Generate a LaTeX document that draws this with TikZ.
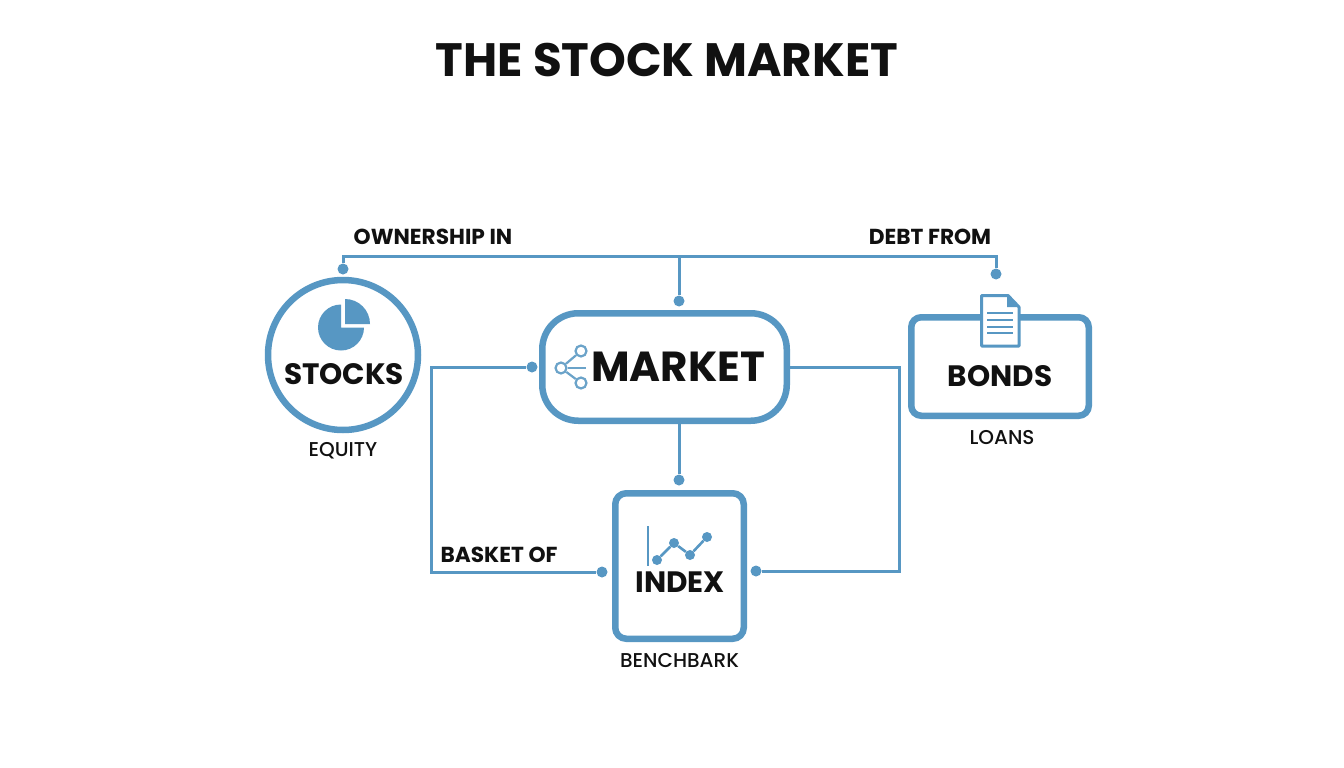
\documentclass[tikz,border=0pt]{standalone}
\usepackage{fontspec}
\setmainfont{Poppins}
\newfontfamily\mediumfont{Poppins Medium}
\usetikzlibrary{positioning}

\definecolor{linkblue}{HTML}{5797C3}
\definecolor{iconblue}{HTML}{6BA3C9}
\definecolor{inkblack}{HTML}{111111}

\tikzset{
  link/.style={line width=3pt,color=linkblue},
  dotend/.style={circle,fill=linkblue,inner sep=0pt,minimum size=11pt},
  heavybox/.style={draw=linkblue,line width=6.5pt,fill=white,rectangle},
  boxlabel/.style={font=\bfseries\fontsize{29.5}{30}\selectfont,text=inkblack,inner sep=0pt},
  smalllabel/.style={font=\bfseries\fontsize{21.7}{22}\selectfont,text=inkblack,inner sep=0pt},
  caption/.style={font=\mediumfont\fontsize{20}{20}\selectfont,text=inkblack,inner sep=0pt},
  iconpt/.style={circle,fill=linkblue,inner sep=0pt,minimum size=10pt},
  ringpt/.style={circle,draw=iconblue,line width=2.2pt,fill=white,inner sep=0pt,minimum size=11pt}
}

\begin{document}
\begin{tikzpicture}[x=1pt,y=-1pt]

  \useasboundingbox (0,0) rectangle (1344,768);

  \node [font=\bfseries\fontsize{46.8}{47}\selectfont,text=inkblack,inner sep=0pt] (title) at (667,60) {THE STOCK MARKET};

  \node [heavybox,circle,minimum size=150pt] (stocks) at (343,355) {};
  \node [heavybox,rounded corners=36pt,minimum width=244.5pt,minimum height=107.5pt] (market) at (664.5,367) {};
  \node [heavybox,rounded corners=10pt,minimum width=177.5pt,minimum height=98.5pt] (bonds) at (1000,366.5) {};
  \node [heavybox,rounded corners=11pt,minimum width=128.5pt,minimum height=145.5pt] (index) at (679.5,566) {};

  \node [boxlabel] (stockstext) at (344,374) {STOCKS};
  \node [boxlabel,font=\bfseries\fontsize{42}{42}\selectfont] (markettext) at (678,367) {MARKET};
  \node [boxlabel] (bondstext) at (1000,376) {BONDS};
  \node [boxlabel] (indextext) at (680,582) {INDEX};

  \node [caption,below=9pt of stocks] (equity) {EQUITY};
  \node [caption] (loans) at (1002,438) {LOANS};
  \node [caption,below=11pt of index] (benchmark) {BENCHBARK};

  \node [smalllabel] (ownership) at (433,237) {OWNERSHIP IN};
  \node [smalllabel] (debt) at (930,237) {DEBT FROM};
  \node [smalllabel] (basket) at (499,555) {BASKET OF};

  % dots at the free ends of the lines
  \node [dotend] (stocksdot) at (343,269) {};
  \node [dotend] (bondsdot) at (996,274) {};
  \node [dotend] (marketdot) at (679,301) {};
  \node [dotend] (indextop) at (679,480) {};
  \node [dotend] (marketleft) at (532,367) {};
  \node [dotend] (indexleft) at (602,572) {};
  \node [dotend] (indexright) at (756,571) {};

  \coordinate (busleft) at (343,256);
  \coordinate (busmid) at (679,256);
  \coordinate (busright) at (996,256);
  \coordinate (marketbase) at (679,421);
  \coordinate (leftupper) at (431,367);
  \coordinate (leftlower) at (431,572);
  \coordinate (rightupper) at (899,367);
  \coordinate (rightlower) at (899,571);

  \path [draw,link,line join=miter]
    (stocksdot) -- (busleft) -- (busright) -- (bondsdot);
  \path [draw,link]
    (busmid)     edge (marketdot)
    (marketbase) edge (indextop);
  \path [draw,link,line join=miter]
    (marketleft) -- (leftupper) -- (leftlower) -- (indexleft);
  \path [draw,link,line join=miter]
    (market.east) -- (rightupper) -- (rightlower) -- (indexright);

  % stocks icon
  \fill [linkblue] (341,327.5) -- (341,304.5) arc (90:360:23pt) -- cycle;
  \fill [linkblue] (345,324) -- (345,299) arc (90:0:25pt) -- cycle;

  % bonds icon
  \path [draw=linkblue,line width=3pt,fill=white,line join=round]
    (981.5,295.5) -- (1008,295.5) -- (1019,307) -- (1019,346) -- (981.5,346) -- cycle;
  \fill [linkblue] (1007,295.5) -- (1019,307) -- (1007,307) -- cycle;
  \foreach \ypos in {313,320,327,333}
    \draw [linkblue,line width=2.6pt] (987,\ypos) -- (1013,\ypos);

  % market icon
  \node [ringpt] (hubnode) at (561,368) {};
  \node [ringpt] (hubtop) at (581,351) {};
  \node [ringpt] (hubbottom) at (581,383) {};
  \coordinate (hubend) at (586,368);
  \path [draw=iconblue,line width=2.2pt]
    (hubnode) edge (hubtop)
    (hubnode) edge (hubbottom)
    (hubnode) edge (hubend);

  % index icon
  \draw [linkblue,line width=2.6pt] (648,526) -- (648,566);
  \node [iconpt] (chartA) at (657,560) {};
  \node [iconpt] (chartB) at (674,543) {};
  \node [iconpt] (chartC) at (690,555) {};
  \node [iconpt] (chartD) at (707,537) {};
  \path [draw=linkblue,line width=2.6pt]
    (chartA) -- (chartB) -- (chartC) -- (chartD);

\end{tikzpicture}
\end{document}
